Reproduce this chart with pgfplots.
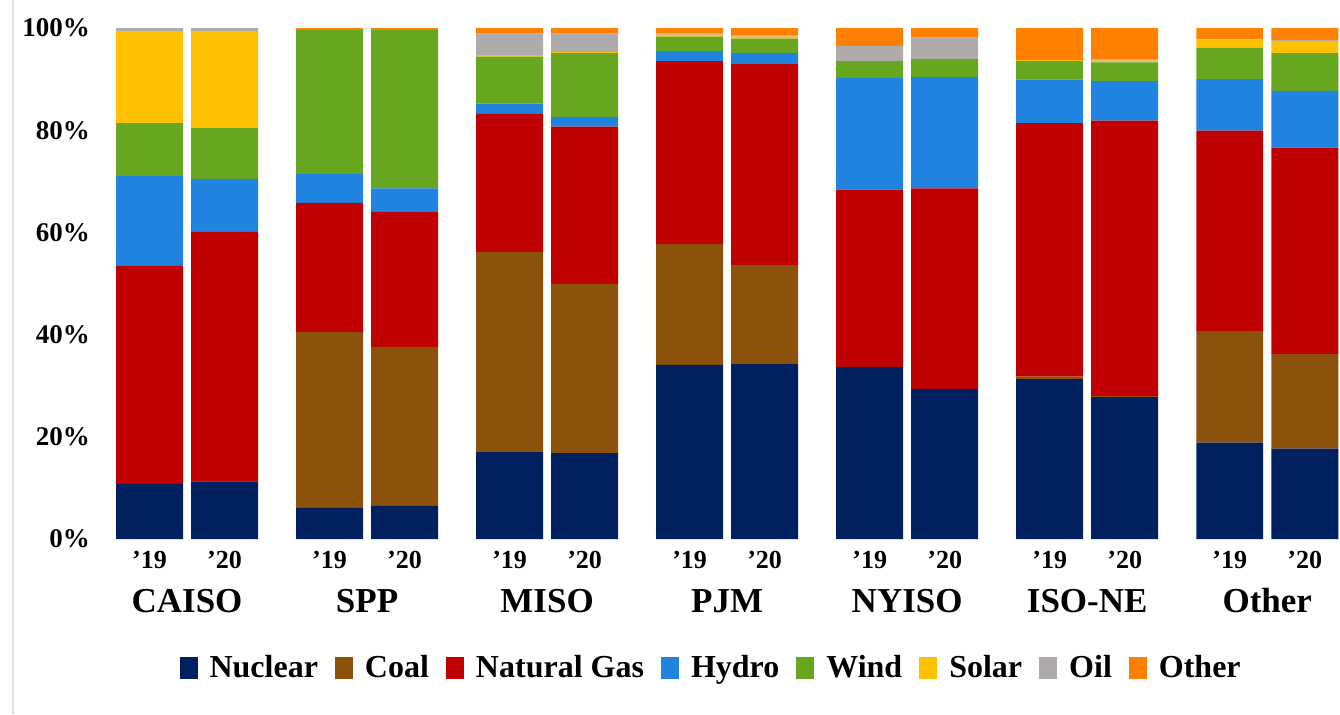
\documentclass[border=0pt]{standalone}
\usepackage{fontspec}
\setmainfont{Liberation Serif}
\usepackage{pgfplots}
\usepackage{pgfplotstable}
\pgfplotsset{compat=1.18}

\definecolor{cNuc}{HTML}{002060}
\definecolor{cCoal}{HTML}{8C510A}
\definecolor{cGas}{HTML}{C00000}
\definecolor{cHydro}{HTML}{2083E0}
\definecolor{cWind}{HTML}{67A61F}
\definecolor{cSolar}{HTML}{FFC000}
\definecolor{cOil}{HTML}{AFABAB}
\definecolor{cOther}{HTML}{FF8000}

% generation mix, percent of total; x = bar position
\pgfplotstableread{
x     nuc   coal  gas   hydro wind  solar oil  other
0     10.8  0     42.6  17.6  10.4  18.0  0.6  0
1     11.2  0.2   48.7  10.4  9.9   19.0  0.6  0
2.4   6.1   34.4  25.3  5.6   28.2  0     0    0.4
3.4   6.5   31.1  26.5  4.5   31.0  0     0    0.4
4.8   17.0  39.2  27.1  1.9   9.2   0.3   4.2  1.1
5.8   16.8  33.1  30.8  1.9   12.5  0.2   3.6  1.1
7.2   34.1  23.6  35.8  2.0   2.8   0.4   0.2  1.1
8.2   34.4  19.2  39.5  2.0   2.8   0.4   0.3  1.4
9.6   33.7  0     34.7  21.8  3.3   0     3.0  3.5
10.6  29.4  0     39.2  21.8  3.5   0     4.2  1.9
12    31.3  0.5   49.6  8.5   3.6   0.2   0    6.3
13    27.8  0.2   53.9  7.7   3.7   0.3   0.3  6.1
14.4  18.9  21.8  39.2  10.1  6.1   1.7   0    2.2
15.4  17.7  18.5  40.4  11.1  7.4   2.4   0.2  2.3
}\mixtable

\tikzset{grp/.style={anchor=base, inner sep=0pt, yshift=-36.5pt,
        font=\fontsize{17.5pt}{20pt}\selectfont\bfseries}}

\begin{document}
\begin{tikzpicture}
\begin{axis}[
    name=ax,
    clip mode=individual,
    ybar stacked,
    bar width=0.893,
    x=37.5pt, y=2.555pt,
    xmin=-0.55, xmax=15.87,
    ymin=0, ymax=100,
    axis x line*=bottom, axis y line*=left,
    axis line style={draw=none},
    major tick length=0pt,
    ytick={0,20,40,60,80,100},
    yticklabels={0\%,20\%,40\%,60\%,80\%,100\%},
    yticklabel style={anchor=east, inner sep=0pt, xshift=-9pt,
        font=\fontsize{13.5pt}{15pt}\selectfont\bfseries},
    xtick={0,1,2.4,3.4,4.8,5.8,7.2,8.2,9.6,10.6,12,13,14.4,15.4},
    xticklabels={'19,'20,'19,'20,'19,'20,'19,'20,'19,'20,'19,'20,'19,'20},
    xticklabel style={anchor=base, inner sep=0pt, yshift=-14.5pt,
        font=\fontsize{13pt}{15pt}\selectfont\bfseries},
    legend image code/.code={\fill[#1] (0pt,-5.5pt) rectangle (9pt,5.5pt);},
    legend columns=-1,
    legend style={draw=none, fill=none,
        at={(0.4886,-0.2524)}, anchor=center,
        font=\fontsize{16pt}{18pt}\selectfont\bfseries,
        nodes={inner sep=0pt},
        /tikz/every odd column/.append style={column sep=6pt},
        /tikz/every even column/.append style={column sep=8.5pt}},
]
\addplot[fill=cNuc, draw=none] table[x=x, y=nuc] {\mixtable};
\addplot[fill=cCoal, draw=none] table[x=x, y=coal] {\mixtable};
\addplot[fill=cGas, draw=none] table[x=x, y=gas] {\mixtable};
\addplot[fill=cHydro, draw=none] table[x=x, y=hydro] {\mixtable};
\addplot[fill=cWind, draw=none] table[x=x, y=wind] {\mixtable};
\addplot[fill=cSolar, draw=none] table[x=x, y=solar] {\mixtable};
\addplot[fill=cOil, draw=none] table[x=x, y=oil] {\mixtable};
\addplot[fill=cOther, draw=none] table[x=x, y=other] {\mixtable};
\legend{Nuclear, Coal, Natural Gas, Hydro, Wind, Solar, Oil, Other}

\node[grp] at (axis cs:0.5,0) {CAISO};
\node[grp] at (axis cs:2.9,0) {SPP};
\node[grp] at (axis cs:5.3,0) {MISO};
\node[grp] at (axis cs:7.7,0) {PJM};
\node[grp] at (axis cs:10.1,0) {NYISO};
\node[grp] at (axis cs:12.5,0) {ISO-NE};
\node[grp] at (axis cs:14.9,0) {Other};
\end{axis}
\pgfresetboundingbox
\path[use as bounding box] ([xshift=-54.125pt, yshift=-87.5pt]ax.south west)
    rectangle ([yshift=14pt]ax.north east);
\draw[gray!25, line width=0.8pt] ([xshift=-47.6pt, yshift=-87.5pt]ax.south west)
    -- ([xshift=-47.6pt, yshift=14pt]ax.north west);
\end{tikzpicture}
\end{document}
